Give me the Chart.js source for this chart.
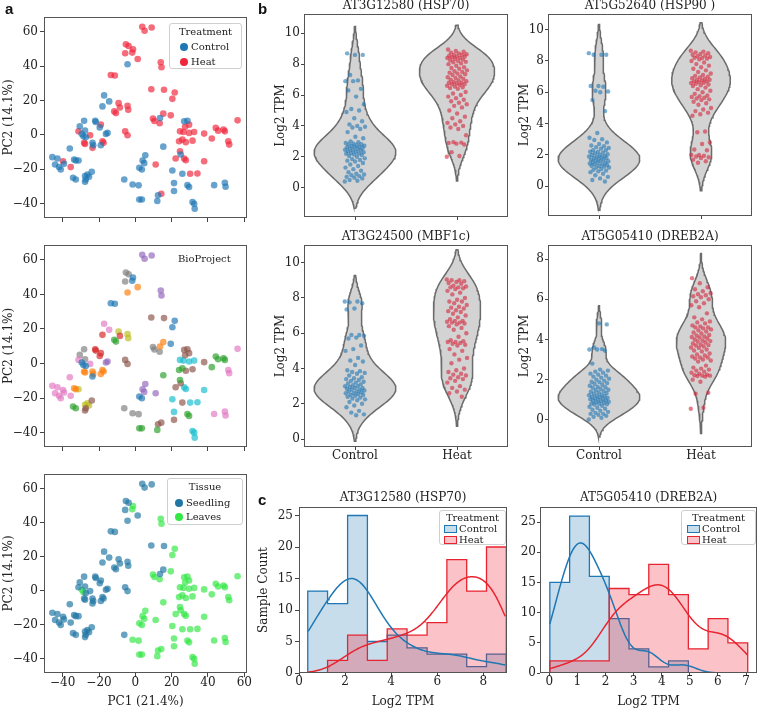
<!DOCTYPE html>
<html>
<head>
<meta charset="utf-8">
<script src="https://cdn.jsdelivr.net/npm/chart.js@4.4.1/dist/chart.umd.min.js"></script>
<style>
  body { margin: 0; background: #fff; width: 758px; height: 711px; position: relative; overflow: hidden; font-family: 'DejaVu Serif', serif; color: #222; }
  canvas { position: absolute; left: 0; top: 0; }
  .panel { position: absolute; font: bold 15px 'Liberation Sans', Arial, sans-serif; color: #111; z-index: 5; }
  .leg { position: absolute; border: 1px solid #cfcfcf; border-radius: 3px; background: rgba(255,255,255,0.85); font-size: 10px; z-index: 5; box-sizing: border-box; }
  .lt { position: absolute; left: 0; right: 0; text-align: center; line-height: 12px; }
  .li { position: absolute; line-height: 12px; white-space: nowrap; display: flex; align-items: center; }
  .dot { display: inline-block; width: 8px; height: 8px; border-radius: 50%; margin-right: 3px; }
  .patch { display: inline-block; width: 11px; height: 6px; border: 1px solid; margin-right: 2px; }
  .note { position: absolute; font-size: 10px; z-index: 5; }
</style>
</head>
<body>
<div class="panel" style="left:5px;top:0px">a</div>
<div class="panel" style="left:258px;top:0px">b</div>
<div class="panel" style="left:258px;top:491px">c</div>
<canvas id="pcaTreat" width="758" height="711"></canvas>
<canvas id="pcaProj" width="758" height="711"></canvas>
<canvas id="pcaTissue" width="758" height="711"></canvas>
<canvas id="vHsp70" width="758" height="711"></canvas>
<canvas id="vHsp90" width="758" height="711"></canvas>
<canvas id="vMbf1c" width="758" height="711"></canvas>
<canvas id="vDreb2a" width="758" height="711"></canvas>
<canvas id="hHsp70" width="758" height="711"></canvas>
<canvas id="hDreb2a" width="758" height="711"></canvas>
<div class="note" style="left:178px;top:253px">BioProject</div>
<script>
// ---- panel a: PCA coordinates, one entry per sample ----
const pc1 = [3.8,5.1,9.0,-5.2,-3.7,-5.6,-1.3,-1.7,1.3,-4.3,
  14.0,14.4,-13.5,-11.3,8.8,15.8,21.7,20.4,-17.2,-14.4,
  -18.1,-9.2,-8.5,-11.6,-10.7,-4.3,-3.9,9.7,10.5,13.4,
  13.6,15.4,19.5,-28.2,-30.6,-27.7,-31.3,-29.5,-28.6,-27.3,
  -24.9,-28.2,-27.7,-23.6,-23.6,-23.2,-22.1,-21.8,-19.6,-19.0,
  -15.3,-16.2,-19.0,-18.1,-17.5,-5.6,-4.3,-36.1,-45.7,-42.9,
  -44.2,-42.0,-41.1,-39.3,-39.8,-35.6,-33.7,-32.8,-31.3,-34.3,
  -32.8,-27.7,-26.4,-25.5,-27.3,-27.7,-24.0,-6.1,-1.5,1.8,
  2.2,3.6,2.2,3.6,5.5,4.0,4.9,11.2,14.3,12.5,
  12.1,15.4,20.4,22.2,25.0,25.9,21.3,21.3,28.7,29.6,
  43.4,49.3,49.7,31.5,32.4,32.7,26.9,28.7,29.6,27.4,
  24.6,26.5,29.6,32.4,37.9,24.1,25.9,27.8,31.5,42.1,
  44.3,45.6,48.6,49.3,51.2,51.7,56.3,24.6,26.9,27.8,
  37.9,30.2,34.2];
const pc2 = [62.9,60.6,62.5,52.7,51.7,47.5,49.8,47.9,44.2,41.1,
  42.3,39.4,34.9,34.6,26.6,26.3,24.7,21.0,23.0,19.5,
  16.6,18.5,16.0,13.7,12.7,17.0,14.7,9.5,8.1,6.8,
  9.8,12.4,11.4,8.3,5.0,2.5,2.1,0.6,-0.8,-1.4,
  -0.2,-4.6,-5.2,-7.5,-4.6,-6.0,8.3,7.5,4.4,6.0,
  1.2,0.6,-6.0,-3.7,-4.6,2.1,-0.2,-7.9,-12.9,-13.7,
  -17.2,-18.7,-20.1,-16.8,-15.3,-18.7,-14.3,-14.9,-14.9,-24.9,
  -25.9,-23.9,-23.0,-24.3,-25.9,-27.2,-21.4,-25.9,-28.8,-29.3,
  -37.5,-37.5,-19.1,-20.1,-11.8,-14.9,-16.4,-17.2,-34.2,-35.1,
  -38.4,-6.8,-20.7,-13.7,-11.4,-22.6,-28.0,-32.6,-29.2,-30.3,
  -29.2,-27.8,-30.1,-39.0,-40.0,-42.9,7.9,8.3,6.0,4.8,
  2.1,1.7,1.2,1.7,0.8,-3.7,-2.7,-4.2,-3.3,-2.1,
  4.1,2.5,3.1,2.1,-3.7,-5.6,8.5,-9.5,-13.7,-14.7,
  -15.3,-22.6,-22.4];
// C = Control, H = Heat
const treatment = [...'HHHHHHHHHCHHHHHHHHCCCHHHHHHHHHCHHCCCHCCCHHHHCCCCCHCCCHHHHCCCCCCCHHCCCCCCCCCCCCCCCCCCCCCHHCCCCHCCCCCCCCCCCCCCHHHHHHHHHHHHHHHHHHHHHHHHHHHHHHHH'];
// index of the BioProject (tab10 colour order)
const bioproject = [...'4447770011440055006638322887771107776000611011333344111556666666661182288855577722004444552295559522666999555599995225522222666299999'].map(Number);
// S = Seedling, L = Leaves
const tissue = [...'SSSSSSLLSSLLSSSSLLSSSSSSSSSLLLSSLSSSSLLSSSSSSSSSSSSSSSSSSSSSSSSSSSSSSSSSSSSSSSLLLLLLLLLLLLLLLLLLLLLLLLLLLLLLLLLLLLLLLLLLLLLLLLLLLLLLLLL'];

const pcaXTicks = [-40, -20, 0, 20, 40, 60];
const pcaYTicks = [-40, -20, 0, 20, 40, 60];

// ---- panel b/c: Log2 TPM per sample ----
const categories = ['Control', 'Heat'];
const hsp70Control = [0.4,0.45,0.5,0.6,0.65,0.7,0.75,0.8,0.85,0.9,1.0,1.1,1.2,
  1.3,1.4,1.5,1.6,1.7,1.75,1.8,1.85,1.9,2.0,2.05,
  2.12,2.15,2.2,2.22,2.25,2.3,2.32,2.35,2.4,2.42,2.45,2.5,2.52,2.55,2.6,2.62,2.65,2.7,2.72,2.75,2.8,2.82,2.85,2.9,2.94,
  3.0,3.2,3.3,3.6,3.8, 3.9,3.95,4.0,4.1,4.3,4.5, 4.9,5.0,5.1,5.4, 5.9,6.3,6.4, 6.9,6.9,6.95, 7.3, 8.6,8.6,8.7];
const hsp70Heat = [2.0,2.05, 2.3,2.8,2.85,2.9,2.92,2.95, 3.4,3.8, 3.9,4.0,4.1,4.2,4.3,4.5,4.6,
  4.8,5.0,5.2,5.3,5.4,5.5, 5.6,5.7,5.8,5.9,6.0,6.1,6.2,6.4,
  6.45,6.5,6.55,6.6,6.65,6.7,6.7,6.75,6.8,6.8,6.85,6.9,6.95,7.0,7.05,7.1,7.15,7.2,
  7.3,7.35,7.4,7.45,7.5,7.55,7.6,7.7,7.75,7.8,7.9,8.0,8.05,
  8.12,8.15,8.2,8.25,8.3,8.35,8.4,8.4,8.45,8.5,8.5,8.55,8.6,8.6,8.65,8.7,8.75,8.8,8.85,8.95];
const hsp90Control = [8.5,8.4,8.4,8.4, 6.4,6.4,6.35,6.1,6.05,6.0, 5.5,4.8,
  3.4,3.1,3.0,2.95,2.8,2.7,2.6,2.55,2.5,2.45,2.4,2.3,2.3,2.2,2.2,2.15,2.1,2.05,2.0,2.0,
  1.95,1.9,1.9,1.85,1.8,1.8,1.75,1.7,1.7,1.65,1.6,1.6,1.55,1.5,1.5,1.45,1.4,1.4,1.35,1.3,
  1.3,1.25,1.2,1.2,1.1,1.05,1.0,0.95,0.9,0.8,0.7,0.6,0.5,0.4,0.3];
const hsp90Heat = [8.65,8.6,8.55,8.5,8.45,8.4,8.35,8.3,8.25,8.2,8.2,8.15,8.1,8.0,7.9,7.8,7.7,7.6,7.5,7.4,
  7.3,7.2,7.1,7.05,7.0,6.95,6.9,6.85,6.8,6.8,6.75,6.7,6.7,6.65,6.6,6.6,6.55,6.5,6.45,6.4,
  6.3,6.2,6.1,6.0,5.9,5.8,5.75,5.7,5.65,5.6,5.55,5.5,5.4,5.3,5.2,5.0,4.9,4.8,4.7,4.6,4.5,
  3.5,3.45,2.8,2.7,2.35,2.3,2.0,2.0,1.95,1.9,1.85,1.8,1.7,1.6,1.5];
const mbf1cControl = [7.8,7.8,7.75,7.7,7.4,7.35, 5.9,5.9,5.85,5.75,5.7, 5.3,5.1,5.0, 4.6,4.45,4.4,4.2,
  3.9,3.85,3.8,3.75,3.7,3.6,3.5,3.45,3.4,3.35,3.3,3.25,3.2,3.15,3.1,3.05,3.0,3.0,2.95,2.9,2.9,2.85,
  2.8,2.8,2.75,2.7,2.7,2.65,2.6,2.6,2.55,2.5,2.5,2.45,2.4,2.35,2.3,2.25,2.2,2.1,2.0,1.9,1.8,1.6,1.5,1.4,1.35];
const mbf1cHeat = [9.05,9.0,9.0,8.95,8.9,8.85,8.8,8.7,8.65,8.6,8.6,8.55,8.5,8.4,8.3,8.2,8.0,7.9,7.8,7.8,
  7.7,7.6,7.5,7.45,7.4,7.3,7.25,7.2,7.1,7.0,6.9,6.8,6.7,6.7,6.65,6.6,6.6,6.55,6.5,6.4,6.3,6.2,6.0,
  5.8,5.6,5.55,5.5,5.5,5.45,5.4,5.35,5.3,5.1,5.0,4.8,4.6,4.5,4.3,4.0,3.9,3.8,3.7,3.65,3.6,3.5,3.45,
  3.4,3.3,3.2,3.0,2.9,2.8,2.7,2.6,2.4];
const dreb2aControl = [0.02,0.1,0.15,0.2,0.25,0.3,0.3,0.35,0.4,0.45,0.5,0.55,0.6,0.65,0.7,
  0.76,0.78,0.8,0.82,0.85,0.88,0.9,0.93,0.95,0.98,1.0,1.03,1.05,1.08,1.1,1.13,1.15,1.18,1.2,1.23,1.25,1.3,1.33,1.36,1.4,1.43,
  1.47,1.5,1.55,1.6,1.62,1.65,1.7,1.75,1.8,1.83,1.88,1.9,1.95,2.0,2.05,2.1,
  2.15,2.2,2.25,2.3,2.35,2.4,2.45,2.5,2.8, 3.45,3.5,3.5,3.52, 3.6, 4.75,4.8];
const dreb2aHeat = [0.55,0.6, 1.3,1.35, 1.9,2.0,
  2.15,2.18,2.2,2.2,2.22,2.25,2.3,2.35,2.4,2.45,2.5,2.55,2.6,2.7,
  2.9,2.95,3.0,3.05,3.1,3.1,3.15,3.2,3.25,3.3,3.4,3.45,3.5,
  3.58,3.6,3.65,3.7,3.72,3.75,3.8,3.85,3.9,3.92,3.95,4.0,4.05,4.1,4.12,4.15,4.2,4.22,
  4.3,4.35,4.4,4.45,4.5,4.55,4.6,4.6,4.65,4.7,4.8,4.85,4.9,
  5.0,5.1,5.3,5.6, 5.7,5.8,5.9,6.0,6.1,6.15,6.2,6.25,6.3, 6.4,6.5,6.6,6.8,7.05];

// ---- panel c: histogram bins and counts ----
const hsp70Edges = [0.38,1.24,2.11,2.97,3.83,4.69,5.56,6.42,7.28,8.14,9.0];
const hsp70CountControl = [13,11,25,5,6,4,3,3,1,3];
const hsp70CountHeat = [0,2,6,2,7,6,8,18,13,20];
const dreb2aEdges = [0.02,0.724,1.428,2.132,2.836,3.54,4.244,4.948,5.652,6.356,7.06];
const dreb2aCountControl = [15,26,16,9,4,1,2,0,0,0];
const dreb2aCountHeat = [2,2,2,14,13,18,13,4,9,5];

const violinTicks10 = [0, 2, 4, 6, 8, 10];
const violinTicks8 = [0, 2, 4, 6, 8];
const histXTicks70 = [0, 2, 4, 6, 8];
const histXTicksDreb = [0, 1, 2, 3, 4, 5, 6, 7];
const histYTicks = [0, 5, 10, 15, 20, 25];

// ---- helpers ----
Chart.defaults.font.family = "'DejaVu Serif', serif";
Chart.defaults.font.size = 12;
Chart.defaults.color = '#222';

const minus = v => String(v).replace('-', '\u2212');
const jitter = i => (((i * 0.618034) % 1) - 0.5) * 0.2;

function scottBw(vals) {
  const n = vals.length;
  const m = vals.reduce((a, b) => a + b, 0) / n;
  const sd = Math.sqrt(vals.reduce((a, b) => a + (b - m) * (b - m), 0) / (n - 1));
  return sd * Math.pow(n, -0.2);
}
function kde(vals, bw, y) {
  let s = 0;
  for (const v of vals) { const u = (y - v) / bw; s += Math.exp(-0.5 * u * u); }
  return s / (vals.length * bw * Math.sqrt(2 * Math.PI));
}

const framePlugin = {
  id: 'frame',
  afterDatasetsDraw(chart) {
    const a = chart.chartArea, ctx = chart.ctx;
    ctx.save();
    ctx.strokeStyle = '#555';
    ctx.lineWidth = 1;
    ctx.strokeRect(Math.round(a.left) + 0.5, Math.round(a.top) + 0.5, Math.round(a.right - a.left) - 1, Math.round(a.bottom - a.top) - 1);
    ctx.restore();
  }
};

function scaleOpts(s, size, isX) {
  return {
    type: 'linear', min: s.min, max: s.max,
    afterBuildTicks: sc => { sc.ticks = s.ticks.map(v => ({ value: v })); },
    afterFit: sc => { if (isX) sc.height = size; else sc.width = size; },
    grid: { display: true, drawOnChartArea: false, drawTicks: true, tickLength: s.tl, color: '#444' },
    border: { display: false },
    ticks: { display: s.labels !== false, padding: s.pad, font: { size: 12, lineHeight: 1 }, color: '#222',
      callback: s.fmt || (v => minus(v)), maxRotation: 0, autoSkip: false },
    title: s.title ? { display: true, text: s.title, padding: s.tpad || 0, font: { size: 12, lineHeight: 1.2 }, color: '#222' } : { display: false }
  };
}

function makeChart(id, box, datasets, c) {
  const titleH = c.title ? 12 + box.tb : 0;
  return new Chart(document.getElementById(id), {
    type: 'scatter',
    data: { datasets },
    plugins: [framePlugin],
    options: {
      responsive: false, animation: false, events: [],
      layout: { padding: { left: box.L - box.yW, top: box.T - titleH, right: 758 - box.R, bottom: 711 - box.B - box.xH } },
      plugins: {
        legend: { display: false }, tooltip: { enabled: false },
        title: c.title ? { display: true, text: c.title, fullSize: false, color: '#222',
          font: { size: 12, weight: 'normal', lineHeight: 1 }, padding: { top: 0, bottom: box.tb } } : { display: false }
      },
      scales: { x: scaleOpts(c.x, box.xH, true), y: scaleOpts(c.y, box.yW, false) }
    }
  });
}

function addLegend(o) {
  const box = document.createElement('div');
  box.className = 'leg';
  Object.assign(box.style, { left: o.x + 'px', top: o.y + 'px', width: o.w + 'px', height: o.h + 'px' });
  const t = document.createElement('div');
  t.className = 'lt'; t.textContent = o.title; t.style.top = (o.ty - 6) + 'px';
  box.appendChild(t);
  o.items.forEach((it, i) => {
    const row = document.createElement('div');
    row.className = 'li';
    row.style.top = (o.ry + i * o.gap - 6) + 'px';
    row.style.left = o.mx + 'px';
    const m = document.createElement('span');
    m.className = o.kind;
    if (o.kind === 'dot') m.style.background = it.color;
    else { m.style.background = it.fill; m.style.borderColor = it.color; }
    row.appendChild(m);
    row.append(it.label);
    box.appendChild(row);
  });
  document.body.appendChild(box);
}

// ---- panel a ----
const treatRGB = { C: '31,119,180', H: '240,38,60' };
const tissueRGB = { S: '33,118,163', L: '52,232,70' };
const tab10 = ['31,119,180','255,127,14','44,160,44','214,39,40','148,103,189','140,86,75','227,119,194','127,127,127','188,189,34','23,190,207'];

function pcaSets(groupOf, keys, rgb) {
  return keys.map(k => ({
    data: pc1.map((x, i) => ({ x, y: pc2[i], g: groupOf[i] })).filter(p => p.g === k),
    backgroundColor: 'rgba(' + rgb[k] + ',0.68)', pointRadius: 3.3, pointBorderWidth: 0
  }));
}
const pcaAxes = (showX) => ({
  x: { min: -50.3, max: 61.5, ticks: pcaXTicks, tl: 4, pad: 0, labels: showX, title: showX ? 'PC1 (21.4%)' : null },
  y: { min: -48.3, max: 68.6, ticks: pcaYTicks, tl: 4, pad: 2, title: 'PC2 (14.1%)', tpad: 1.5 }
});

makeChart('pcaTreat', { L: 44, T: 17, R: 247, B: 218, yW: 44, xH: 5 },
  pcaSets(treatment, ['C', 'H'], treatRGB), pcaAxes(false));
makeChart('pcaProj', { L: 44, T: 245, R: 247, B: 447, yW: 44, xH: 5 },
  pcaSets(bioproject, tab10.map((_, i) => i), tab10), pcaAxes(false));
makeChart('pcaTissue', { L: 44, T: 474, R: 247, B: 673, yW: 44, xH: 36 },
  pcaSets(tissue, ['S', 'L'], tissueRGB), pcaAxes(true));

addLegend({ x: 169, y: 23, w: 73, h: 46, title: 'Treatment', ty: 8, ry: 23, gap: 15, mx: 10, kind: 'dot',
  items: [{ label: 'Control', color: 'rgb(' + treatRGB.C + ')' }, { label: 'Heat', color: 'rgb(' + treatRGB.H + ')' }] });
addLegend({ x: 167, y: 478, w: 76, h: 47, title: 'Tissue', ty: 8, ry: 24, gap: 14, mx: 7, kind: 'dot',
  items: [{ label: 'Seedling', color: 'rgb(' + tissueRGB.S + ')' }, { label: 'Leaves', color: 'rgb(' + tissueRGB.L + ')' }] });

// ---- panel b: violins with strip points ----
const stripColors = ['rgba(31,119,180,0.6)', 'rgba(214,39,60,0.6)'];
function violinSets(groups) {
  const shapes = groups.map(vals => {
    const bw = scottBw(vals);
    const lo = Math.min(...vals) - 2 * bw, hi = Math.max(...vals) + 2 * bw;
    return Array.from({ length: 100 }, (_, k) => {
      const y = lo + (hi - lo) * k / 99;
      return { y, d: kde(vals, bw, y) };
    });
  });
  const peak = Math.max(...shapes.flat().map(p => p.d));
  const k = 0.4 / peak;
  const sets = [];
  shapes.forEach((s, c) => {
    const right = s.map(p => ({ x: c + k * p.d, y: p.y }));
    const left = s.slice().reverse().map(p => ({ x: c - k * p.d, y: p.y }));
    sets.push({ data: right.concat(left, [right[0]]), showLine: true, fill: 'shape', backgroundColor: '#d3d3d3',
      borderColor: '#6b6b6b', borderWidth: 1.5, pointRadius: 0, order: 2 });
  });
  groups.forEach((vals, c) => {
    sets.push({ data: vals.map((v, i) => ({ x: c + jitter(i), y: v })), backgroundColor: stripColors[c],
      pointRadius: 2.2, pointBorderWidth: 0, order: 1 });
  });
  return sets;
}
const violinAxes = (ymin, ymax, yt, showX) => ({
  x: { min: -0.5, max: 1.5, ticks: [0, 1], tl: 3, pad: 0, labels: showX, fmt: v => categories[v] },
  y: { min: ymin, max: ymax, ticks: yt, tl: 3, pad: 1, title: 'Log2 TPM' }
});

makeChart('vHsp70', { L: 304, T: 14, R: 508, B: 217, yW: 30, xH: 4, tb: 2 },
  violinSets([hsp70Control, hsp70Heat]), Object.assign({ title: 'AT3G12580 (HSP70)' }, violinAxes(-1.9, 11.25, violinTicks10, false)));
makeChart('vHsp90', { L: 548, T: 14, R: 752, B: 216, yW: 30, xH: 4, tb: 2 },
  violinSets([hsp90Control, hsp90Heat]), Object.assign({ title: 'AT5G52640 (HSP90 )' }, violinAxes(-1.9, 11.0, violinTicks10, false)));
makeChart('vMbf1c', { L: 304, T: 245, R: 508, B: 447, yW: 30, xH: 20, tb: 2 },
  violinSets([mbf1cControl, mbf1cHeat]), Object.assign({ title: 'AT3G24500 (MBF1c)' }, violinAxes(-0.45, 11.0, violinTicks10, true)));
makeChart('vDreb2a', { L: 548, T: 245, R: 752, B: 447, yW: 30, xH: 20, tb: 2 },
  violinSets([dreb2aControl, dreb2aHeat]), Object.assign({ title: 'AT5G05410 (DREB2A)' }, violinAxes(-1.35, 8.7, violinTicks8, true)));

// ---- panel c: step histograms with KDE ----
const histColors = [{ line: 'rgb(31,119,180)', fill: 'rgba(31,119,180,0.25)' }, { line: 'rgb(232,36,48)', fill: 'rgba(240,40,55,0.28)' }];
function stepData(edges, counts) {
  const pts = [{ x: edges[0], y: 0 }];
  counts.forEach((c, i) => pts.push({ x: edges[i], y: c }));
  pts.push({ x: edges[edges.length - 1], y: counts[counts.length - 1] });
  pts.push({ x: edges[edges.length - 1], y: 0 });
  return pts;
}
function histSets(edges, counts, groups) {
  const all = groups.flat();
  const lo = Math.min(...all), hi = Math.max(...all);
  const binW = edges[1] - edges[0];
  const sets = [];
  counts.forEach((c, g) => sets.push({ data: stepData(edges, c), showLine: true, stepped: 'before', fill: 'origin',
    backgroundColor: histColors[g].fill, borderColor: histColors[g].line, borderWidth: 1.3, pointRadius: 0, order: 4 - g }));
  groups.forEach((vals, g) => {
    const bw = scottBw(vals);
    const curve = Array.from({ length: 200 }, (_, k) => {
      const x = lo + (hi - lo) * k / 199;
      return { x, y: kde(vals, bw, x) * vals.length * binW };
    });
    sets.push({ data: curve, showLine: true, fill: false, borderColor: histColors[g].line, borderWidth: 1.5, pointRadius: 0, order: 2 - g });
  });
  return sets;
}

makeChart('hHsp70', { L: 299, T: 507, R: 507, B: 673, yW: 42, xH: 36, tb: 3 },
  histSets(hsp70Edges, [hsp70CountControl, hsp70CountHeat], [hsp70Control, hsp70Heat]),
  { title: 'AT3G12580 (HSP70)',
    x: { min: 0, max: 9.03, ticks: histXTicks70, tl: 3, pad: 0, title: 'Log2 TPM' },
    y: { min: 0, max: 26.35, ticks: histYTicks, tl: 4, pad: 2, title: 'Sample Count' } });
makeChart('hDreb2a', { L: 540, T: 507, R: 757, B: 673, yW: 30, xH: 36, tb: 3 },
  histSets(dreb2aEdges, [dreb2aCountControl, dreb2aCountHeat], [dreb2aControl, dreb2aHeat]),
  { title: 'AT5G05410 (DREB2A)',
    x: { min: -0.33, max: 7.39, ticks: histXTicksDreb, tl: 3, pad: 0, title: 'Log2 TPM' },
    y: { min: 0, max: 27.5, ticks: histYTicks, tl: 3, pad: 1 } });

const histItems = categories.map((label, g) => ({ label, color: histColors[g].line, fill: histColors[g].fill }));
addLegend({ x: 439, y: 510, w: 67, h: 35, title: 'Treatment', ty: 7, ry: 18, gap: 11, mx: 4, kind: 'patch', items: histItems });
addLegend({ x: 681, y: 510, w: 75, h: 35, title: 'Treatment', ty: 7, ry: 18, gap: 11, mx: 5, kind: 'patch', items: histItems });
</script>
</body>
</html>
